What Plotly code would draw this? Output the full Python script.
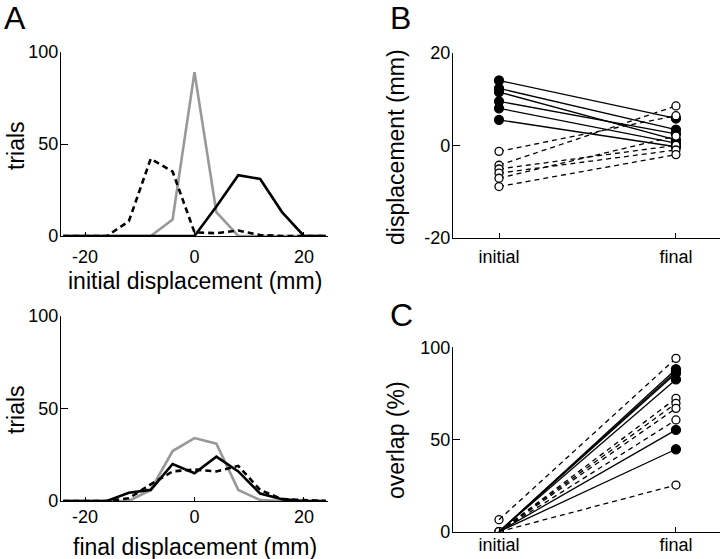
import plotly.graph_objects as go

# ---------------- data ----------------
bins = [-24, -20, -16, -12, -8, -4, 0, 4, 8, 12, 16, 20, 24]

init_gray = [0, 0, 0, 0, 0, 9, 89, 13, 0, 0, 0, 0, 0]
init_black = [0, 0, 0, 0, 0, 0, 0, 16, 33, 31, 13, 0, 0]
init_dashed = [0, 0, 0, 8, 42, 35, 2, 1.5, 3, 0.5, 0, 0, 0]

final_gray = [0, 0, 0, 0, 6, 27, 34, 31, 6, 0.5, 0, 0, 0]
final_black = [0, 0, 0, 4.5, 6, 20, 15, 24, 16, 4, 1, 0, 0]
final_dashed = [0, 0, 0, 1.5, 9, 16, 17, 16, 19, 6, 1, 0.5, 0]

cats = ["initial", "final"]

b_solid_initial = [14.0, 12.3, 11.5, 9.5, 8.0, 5.5]
b_solid_final = [5.8, 3.4, 1.2, 2.5, 0.5, -0.3]
b_dash_initial = [-1.3, -4.3, -5.1, -6.0, -7.1, -8.9]
b_dash_final = [6.4, 8.5, 0.0, -1.0, 2.0, -2.0]

c_solid_initial = [0, 0, 0, 0, 0, 0]
c_solid_final = [88.1, 86.9, 85.9, 82.6, 55.2, 44.7]
c_dash_initial = [6.5, 0, 0, 0, 0, 0]
c_dash_final = [94.0, 72.3, 69.6, 66.9, 60.6, 25.3]

a_yticks = [0, 50, 100]
a_xticks = [-20, 0, 20]
a_xticktext = ["-20", "0", "20"]
b_yticks = [-20, 0, 20]
b_yticktext = ["-20", "0", "20"]
c_yticks = [0, 50, 100]

FONT = "Liberation Sans, Arial, sans-serif"
W, H = 720, 559

fig = go.Figure()

# ---------------- panel A ----------------
def hist_traces(xa, ya, gray, black, dashed):
    fig.add_trace(go.Scatter(x=bins, y=gray, mode="lines", xaxis=xa, yaxis=ya,
                             line=dict(color="#999999", width=2.6), showlegend=False))
    fig.add_trace(go.Scatter(x=bins, y=black, mode="lines", xaxis=xa, yaxis=ya,
                             line=dict(color="black", width=2.6), showlegend=False))
    fig.add_trace(go.Scatter(x=bins, y=dashed, mode="lines", xaxis=xa, yaxis=ya,
                             line=dict(color="black", width=2.6, dash="6px,4px"), showlegend=False))

hist_traces("x", "y", init_gray, init_black, init_dashed)
hist_traces("x2", "y2", final_gray, final_black, final_dashed)

# ---------------- panels B and C ----------------
def pair_lines(init, fin, dash, xa, ya):
    xs, ys = [], []
    for a, b in zip(init, fin):
        xs += [cats[0], cats[1], None]
        ys += [a, b, None]
    fig.add_trace(go.Scatter(x=xs, y=ys, mode="lines", xaxis=xa, yaxis=ya,
                             line=dict(color="black", width=1.3,
                                       dash="5px,4px" if dash else "solid"),
                             showlegend=False, connectgaps=False))

def markers(xcat, vals, filled, xa, ya):
    fig.add_trace(go.Scatter(x=[xcat] * len(vals), y=vals, mode="markers", xaxis=xa, yaxis=ya,
                             marker=dict(size=9 if filled else 8,
                                         color="black" if filled else "white",
                                         line=dict(color="black", width=1.3)),
                             showlegend=False))

# B
pair_lines(b_solid_initial, b_solid_final, False, "x3", "y3")
pair_lines(b_dash_initial, b_dash_final, True, "x3", "y3")
markers("initial", b_solid_initial, True, "x3", "y3")
markers("initial", b_dash_initial, False, "x3", "y3")
markers("final", b_solid_final, True, "x3", "y3")
markers("final", b_dash_final, False, "x3", "y3")

# C
markers("initial", c_dash_initial, False, "x4", "y4")
pair_lines(c_solid_initial, c_solid_final, False, "x4", "y4")
pair_lines(c_dash_initial, c_dash_final, True, "x4", "y4")
markers("final", c_solid_final, True, "x4", "y4")
markers("final", c_dash_final, False, "x4", "y4")

# ---------------- axes ----------------
def px_x(a, b):
    return [a / W, b / W]

def px_y(top, bottom):
    return [(H - bottom) / H, (H - top) / H]

tickfont = dict(family=FONT, size=18, color="black")
common = dict(showgrid=False, zeroline=False, showline=True, linecolor="black",
              linewidth=1.3, ticks="inside", tickcolor="black", tickwidth=1.3,
              tickfont=tickfont, automargin=False)

fig.update_layout(
    xaxis=dict(domain=px_x(61, 328), range=[-24.4, 24.4], tickvals=a_xticks,
               ticktext=a_xticktext, ticklen=4, anchor="y", ticklabelstandoff=4, **common),
    yaxis=dict(domain=px_y(52, 236), range=[0, 100], tickvals=a_yticks, ticklen=7,
               anchor="x", ticklabelstandoff=-2, **common),
    xaxis2=dict(domain=px_x(61, 328), range=[-24.4, 24.4], tickvals=a_xticks,
                ticktext=a_xticktext, ticklen=4, anchor="y2", ticklabelstandoff=-1, **common),
    yaxis2=dict(domain=px_y(316, 501), range=[0, 100], tickvals=a_yticks, ticklen=7,
                anchor="x2", ticklabelstandoff=-2, **common),
    xaxis3=dict(domain=px_x(453, 720), type="category", categoryorder="array",
                categoryarray=cats, range=[-0.26, 1.249], ticklen=5, anchor="y3",
                ticklabelstandoff=2, **common),
    yaxis3=dict(domain=px_y(52.7, 238), range=[-20, 20], tickvals=b_yticks,
                ticktext=b_yticktext, ticklen=7, anchor="x3", ticklabelstandoff=-2, **common),
    xaxis4=dict(domain=px_x(453, 720), type="category", categoryorder="array",
                categoryarray=cats, range=[-0.26, 1.249], ticklen=5, anchor="y4",
                ticklabelstandoff=-3, **common),
    yaxis4=dict(domain=px_y(347.3, 531.7), range=[0, 100], tickvals=c_yticks, ticklen=7,
                anchor="x4", ticklabelstandoff=-2, **common),
)

def ann(text, x, y, size, angle=0):
    fig.add_annotation(text=text, x=x / W, y=(H - y) / H, xref="paper", yref="paper",
                       showarrow=False, textangle=angle, xanchor="center", yanchor="middle",
                       font=dict(family=FONT, size=size, color="black"))

ann("A", 15, 18, 32)
ann("B", 400, 18, 32)
ann("C", 401, 315, 32)
ann("initial displacement (mm)", 195, 281, 23)
ann("final displacement (mm)", 195, 547, 23)
ann("trials", 16, 146, 23, -90)
ann("trials", 16, 410, 23, -90)
ann("displacement (mm)", 396, 147, 23, -90)
ann("overlap (%)", 396, 440, 23, -90)

fig.update_layout(width=W, height=H, margin=dict(l=0, r=0, t=0, b=0, autoexpand=False),
                  paper_bgcolor="white", plot_bgcolor="white",
                  font=dict(family=FONT, color="black"))

fig.write_html("out.html", config={"displayModeBar": False},
               post_script="document.body.style.margin='0';document.body.style.overflow='hidden';")
